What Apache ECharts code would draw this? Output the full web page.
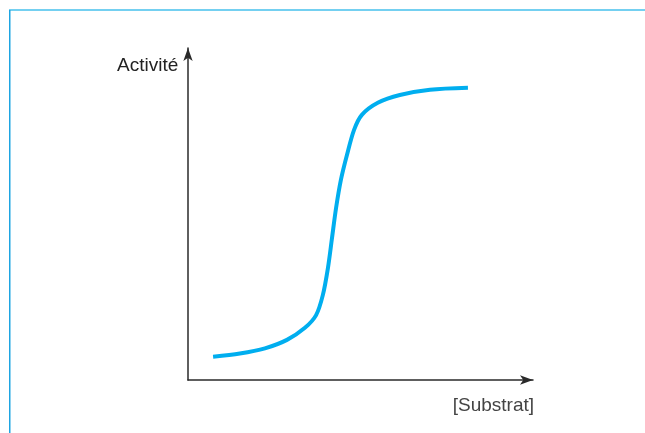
<!DOCTYPE html>
<html>
<head>
<meta charset="utf-8">
<script src="https://cdn.jsdelivr.net/npm/echarts@6/dist/echarts.min.js"></script>
<style>
  html, body { margin: 0; padding: 0; background: #fff; }
  #main { width: 645px; height: 433px; }
</style>
</head>
<body>
<div id="main"></div>
<script>
// sigmoid activity curve
var substrat = [7.4, 15.3, 22.7, 29.2, 34.5, 37.8, 39.8, 41.3, 42.5, 43.7, 45.1, 46.9, 49.0, 51.3, 56.0, 62.5, 71.4, 82.6];
var activite = [7.1, 8.1, 9.7, 12.3, 16.0, 19.9, 26.1, 34.4, 43.6, 52.8, 61.3, 69.0, 76.7, 81.3, 85.0, 87.4, 89.0, 89.6];
var axisNames = ['Activité', '[Substrat]'];

var points = substrat.map(function (x, i) { return [x, activite[i]]; });

var chart = echarts.init(document.getElementById('main'));
chart.setOption({
  animation: false,
  grid: { left: 188, top: 48, right: 112, bottom: 53 },
  xAxis: {
    type: 'value', min: 0, max: 101.8,
    axisLine: { show: true, symbol: ['none', 'arrow'], symbolSize: [7, 13], lineStyle: { color: '#2a2a2a', width: 1.5 } },
    axisTick: { show: false }, axisLabel: { show: false }, splitLine: { show: false }
  },
  yAxis: {
    type: 'value', min: 0, max: 101.8,
    axisLine: { show: true, symbol: ['none', 'arrow'], symbolSize: [7, 13], lineStyle: { color: '#2a2a2a', width: 1.5 } },
    axisTick: { show: false }, axisLabel: { show: false }, splitLine: { show: false }
  },
  series: [{
    type: 'line',
    data: points,
    smooth: 0.3,
    showSymbol: false,
    lineStyle: { color: '#00aeef', width: 4 }
  }],
  graphic: [
    { type: 'rect', shape: { x: 9, y: 9, width: 636, height: 2 }, style: { fill: '#74d0f1' } },
    { type: 'rect', shape: { x: 9, y: 10, width: 1.5, height: 423 }, style: { fill: '#1ea5e2' } },
    { type: 'text', left: 117, top: 56, style: { text: axisNames[0], font: '19px "Liberation Sans", Arial, sans-serif', fill: '#222' } },
    { type: 'text', right: 111, top: 396, style: { text: axisNames[1], font: '19px "Liberation Sans", Arial, sans-serif', fill: '#444' } }
  ]
});
</script>
</body>
</html>
